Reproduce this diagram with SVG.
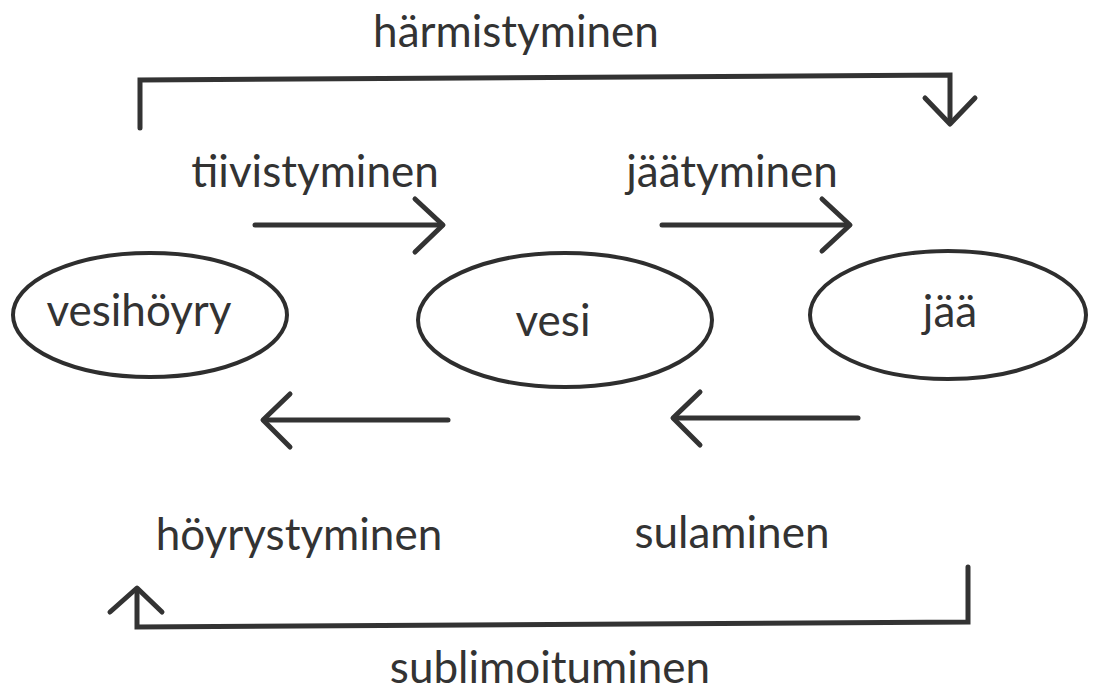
<svg xmlns="http://www.w3.org/2000/svg" width="1096" height="695" viewBox="0 0 1096 695">
  <style>
    .bg { fill: #ffffff; }
    .node { fill: none; stroke: #2e2e2e; stroke-width: 4; }
    .lbl { font-family: Lato, "Open Sans", "Liberation Sans", sans-serif; font-size: 44px; fill: #333333; text-anchor: middle; }
    .edge { fill: none; stroke: #333333; stroke-width: 5; stroke-linecap: round; stroke-linejoin: miter; }
    .head { fill: none; stroke: #333333; stroke-width: 5; stroke-linecap: round; stroke-linejoin: round; }
  </style>
  <rect class="bg" x="0" y="0" width="1096" height="695"/>

  <g id="connectors">
    <!-- deposition: vapour straight to ice -->
    <path class="edge" d="M140,128 V80 L950,75 V122"/>
    <path class="head" d="M925,98 L950,124 L975,98"/>
    <text class="lbl" x="516" y="47">härmistyminen</text>

    <!-- condensation -->
    <path class="edge" d="M255,225 H442"/>
    <path class="head" d="M415,199 L443,225 L415,252"/>
    <text class="lbl" x="315" y="187">tiivistyminen</text>

    <!-- freezing -->
    <path class="edge" d="M662,225 H848"/>
    <path class="head" d="M822,199 L850,225 L822,251"/>
    <text class="lbl" x="732" y="187">jäätyminen</text>

    <!-- evaporation -->
    <path class="edge" d="M448,420 H264"/>
    <path class="head" d="M290,394 L263,420 L290,447"/>
    <text class="lbl" x="299" y="550">höyrystyminen</text>

    <!-- melting -->
    <path class="edge" d="M858,418 H674"/>
    <path class="head" d="M700,392 L673,418 L700,445"/>
    <text class="lbl" x="732" y="548">sulaminen</text>

    <!-- sublimation: ice straight to vapour -->
    <path class="edge" d="M968,567 V622 L137,627 V590"/>
    <path class="head" d="M110,612 L137,588 L162,612"/>
    <text class="lbl" x="550" y="683">sublimoituminen</text>
  </g>

  <g id="vesihoyry">
    <ellipse class="node" cx="150" cy="315" rx="137" ry="62"/>
    <text class="lbl" x="139" y="326">vesihöyry</text>
  </g>
  <g id="vesi">
    <ellipse class="node" cx="565" cy="320" rx="147" ry="67"/>
    <text class="lbl" x="553" y="336">vesi</text>
  </g>
  <g id="jaa">
    <ellipse class="node" cx="948" cy="315" rx="138" ry="64"/>
    <text class="lbl" x="950" y="327">jää</text>
  </g>
</svg>
